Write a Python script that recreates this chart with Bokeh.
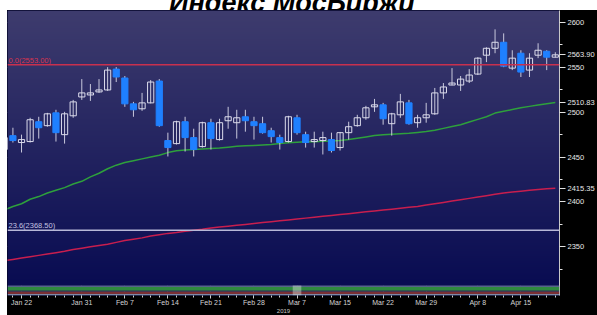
import numpy as np
import pandas as pd
from bokeh.plotting import figure
from bokeh.layouts import column
from bokeh.models import Range1d, FixedTicker, Label, BoxAnnotation, Span, Div
from bokeh.embed import file_html
from bokeh.resources import INLINE

# ---------------- data ----------------
days = pd.bdate_range("2019-01-18", "2019-04-19")
days = days[days != pd.Timestamp("2019-03-08")]

tick_dates = ["2019-01-22", "2019-01-31", "2019-02-07", "2019-02-14", "2019-02-21",
              "2019-02-28", "2019-03-07", "2019-03-15", "2019-03-22", "2019-03-29",
              "2019-04-08", "2019-04-15"]
tick_text = ["Jan 22", "Jan 31", "Feb 7", "Feb 14", "Feb 21", "Feb 28", "Mar 7",
             "Mar 15", "Mar 22", "Mar 29", "Apr 8", "Apr 15"]

opens = [2458.4, 2473.9, 2466.2, 2467.3, 2489.4, 2485.0, 2499.3, 2475.0, 2496.0, 2517.0,
         2519.2, 2522.6, 2524.8, 2548.0, 2538.1, 2509.3, 2503.8, 2510.4, 2534.7, 2468.4,
         2465.0, 2489.4, 2471.7, 2461.7, 2488.3, 2469.5, 2490.5, 2488.3, 2494.9, 2489.4,
         2487.2, 2479.4, 2471.7, 2467.3, 2493.8, 2475.0, 2467.3, 2468.4, 2469.5, 2460.6,
         2477.2, 2485.0, 2493.8, 2506.0, 2508.2, 2487.2, 2497.1, 2510.4, 2488.3, 2493.8,
         2498.2, 2521.5, 2530.3, 2530.3, 2534.7, 2542.5, 2563.5, 2571.2, 2577.9, 2549.1,
         2565.7, 2546.9, 2563.5, 2567.9, 2561.3]
closes = [2471.7, 2468.4, 2469.5, 2491.6, 2482.7, 2498.2, 2477.2, 2498.2, 2511.5, 2521.5,
          2521.5, 2524.8, 2546.9, 2539.2, 2509.3, 2502.7, 2510.4, 2533.6, 2485.0, 2460.6,
          2489.4, 2471.7, 2458.4, 2488.3, 2470.6, 2488.3, 2494.9, 2493.8, 2490.5, 2485.0,
          2477.2, 2472.8, 2466.2, 2494.9, 2477.2, 2466.2, 2469.5, 2471.7, 2457.3, 2477.2,
          2483.8, 2493.8, 2504.9, 2508.2, 2492.7, 2498.2, 2511.5, 2487.2, 2493.8, 2497.1,
          2521.5, 2528.1, 2532.5, 2536.9, 2541.4, 2560.2, 2571.2, 2577.9, 2551.3, 2560.2,
          2544.7, 2560.2, 2569.0, 2561.3, 2563.9]
highs = [2475.0, 2482.7, 2475.0, 2493.8, 2494.9, 2499.3, 2502.7, 2500.4, 2513.7, 2536.9,
         2531.4, 2536.9, 2550.2, 2550.2, 2540.3, 2511.5, 2521.5, 2535.8, 2536.9, 2477.2,
         2490.5, 2494.9, 2481.6, 2489.4, 2492.7, 2492.7, 2506.0, 2502.7, 2502.7, 2494.9,
         2494.9, 2482.7, 2475.0, 2496.0, 2497.1, 2478.3, 2478.3, 2478.3, 2477.2, 2478.0,
         2489.4, 2497.1, 2507.1, 2514.8, 2510.4, 2499.3, 2520.4, 2513.7, 2497.1, 2510.4,
         2527.0, 2532.5, 2549.1, 2540.3, 2548.0, 2561.3, 2572.3, 2592.3, 2587.8, 2569.0,
         2569.0, 2565.7, 2576.8, 2569.0, 2566.8]
lows = [2452.9, 2466.2, 2455.1, 2466.2, 2470.6, 2483.8, 2467.3, 2465.0, 2493.8, 2513.7,
        2512.6, 2521.5, 2523.7, 2533.6, 2506.0, 2494.9, 2501.5, 2509.8, 2483.8, 2450.7,
        2464.0, 2456.2, 2450.7, 2460.6, 2458.4, 2468.4, 2481.6, 2470.6, 2478.3, 2469.5,
        2476.1, 2466.2, 2458.4, 2466.2, 2475.0, 2460.6, 2460.6, 2452.9, 2455.1, 2457.3,
        2469.5, 2483.8, 2491.6, 2500.4, 2486.1, 2473.9, 2493.8, 2486.1, 2482.7, 2488.3,
        2497.1, 2514.8, 2530.0, 2523.7, 2532.5, 2541.4, 2555.8, 2565.7, 2550.2, 2546.9,
        2539.2, 2539.2, 2560.2, 2546.9, 2561.0]
ma_short = [2391, 2395, 2398, 2403, 2406, 2410, 2413, 2416, 2420, 2423,
            2428, 2432, 2437, 2441, 2444, 2446, 2448, 2450, 2452, 2455,
            2457, 2458, 2458.5, 2459, 2459.5, 2460, 2461, 2462, 2462.5, 2463,
            2463.5, 2464, 2465, 2466, 2466.5, 2467, 2467, 2467.5, 2468, 2468.5,
            2469.5, 2471, 2472.5, 2474, 2475, 2475.5, 2476, 2476.5, 2477.5, 2478.5,
            2480, 2482, 2484, 2486, 2489, 2492, 2495, 2499, 2501, 2503,
            2505, 2506.5, 2508, 2509.5, 2510.83]
ma_long = [2334.5, 2336, 2337.5, 2339, 2340.5, 2342, 2343.5, 2345, 2347, 2348.5,
           2350, 2351.5, 2353, 2355, 2357, 2358.5, 2360, 2362, 2363.5, 2365,
           2366, 2367.5, 2368.5, 2369.5, 2371, 2372, 2373, 2374, 2375, 2376,
           2377, 2378, 2379, 2380, 2381, 2382, 2383, 2384, 2385, 2386,
           2387, 2388, 2389, 2390, 2391, 2392, 2393, 2394, 2395, 2396.5,
           2398, 2399.5, 2401, 2402.5, 2404, 2405.5, 2407, 2408.5, 2410, 2411,
           2412, 2413, 2414, 2414.7, 2415.35]
fib_levels = [2553.00, 2368.50]
fib_text = ["0.0(2553.00)", "23.6(2368.50)"]
y_ticks = [2350, 2400, 2450, 2500, 2550, 2600]
y_minor = [2325, 2375, 2425, 2475, 2525, 2575]
title_text = "Индекс МосБиржи"
year_text = "2019"

# ---------------- geometry ----------------
x = np.arange(len(days))
day_index = {d.strftime("%Y-%m-%d"): i for i, d in enumerate(days)}
tick_x = [day_index[d] for d in tick_dates]

W, H_TITLE, H = 597, 10, 305
L, R, T, B = 7, 29, 0, 18
X0, X1 = 0.371, 64.486
Y0, Y1 = 2295.8, 2613.3
PXX = (W - L - R) / (X1 - X0)
PXY = (H - T - B) / (Y1 - Y0)
STRIP = 10 / PXY
FONT = "Liberation Sans"

# page behind the transparent border: white left margin, black axis areas
page_bg = f"linear-gradient(to right, white {L}px, black {L}px)"

p = figure(width=W, height=H, output_backend="svg", toolbar_location=None,
           x_range=Range1d(X0, X1), y_range=Range1d(Y0, Y1),
           y_axis_location="right",
           min_border_left=L, min_border_right=R, min_border_top=T, min_border_bottom=B,
           border_fill_color=None, outline_line_color=None,
           background_fill_color="#0a0c55",
           styles={"background": page_bg})

# background gradient
N = 280
top_c = np.array([62, 60, 110], dtype=float)
bot_c = np.array([9, 12, 82], dtype=float)
t = np.linspace(0, 1, N)[:, None]
rgb = bot_c + (top_c - bot_c) * t
img = np.zeros((N, 1), dtype=np.uint32)
view = img.view(dtype=np.uint8).reshape((N, 1, 4))
view[:, 0, 0] = rgb[:, 0]
view[:, 0, 1] = rgb[:, 1]
view[:, 0, 2] = rgb[:, 2]
view[:, 0, 3] = 255
p.image_rgba(image=[img], x=X0, y=Y0 + STRIP, dw=X1 - X0, dh=Y1 - Y0 - STRIP)

# grids
xt = FixedTicker(ticks=tick_x, minor_ticks=list(x))
yt_grid = FixedTicker(ticks=y_ticks, minor_ticks=y_minor)
for g, tk in ((p.xgrid[0], xt), (p.ygrid[0], yt_grid)):
    g.ticker = tk
    g.grid_line_color = "#a0a0cc"
    g.grid_line_alpha = 0.55
    g.grid_line_dash = "1 2"
    g.grid_line_width = 1

# fibonacci lines
p.add_layout(Span(location=fib_levels[0], dimension="width", line_color="#c8304e", line_width=1.5))
p.add_layout(Span(location=fib_levels[1], dimension="width", line_color="#b8b8d8", line_width=1.5))

# moving averages
p.line(x, ma_short, line_color="#2ea03c", line_width=1.5)
p.line(x, ma_long, line_color="#c81e4e", line_width=1.5)

# candles
o = np.array(opens); c = np.array(closes)
up = c >= o
dn = ~up
p.segment(x0=x, y0=lows, x1=x, y1=highs, line_color="#c8c8dc", line_width=1)
p.vbar(x=x[up], width=0.72, top=c[up], bottom=o[up], fill_alpha=0,
       line_color="#dcdcec", line_width=1)
p.vbar(x=x[dn], width=0.72, top=o[dn], bottom=c[dn], fill_color="#1f80ff",
       line_color="#1f80ff", line_width=1)

# collapsed lower panel strip
bands = [(0.0, 1.5, "#7d8aa6"), (1.5, 4.0, "#7a2f33"), (4.0, 5.0, "#4a4e5e"),
         (5.0, 8.5, "#2f8a3f"), (8.5, 10.0, "#56648a")]
for b0, b1, col in bands:
    p.add_layout(BoxAnnotation(bottom=Y0 + b0 / PXY, top=Y0 + b1 / PXY, fill_color=col,
                               fill_alpha=1, line_color=None))
m7 = day_index["2019-03-07"]
p.add_layout(BoxAnnotation(bottom=Y0, top=Y0 + STRIP, left=m7 - 0.5, right=m7 + 0.5,
                           fill_color="#d8e0d8", fill_alpha=0.45, line_color=None))

# right axis: price ticks plus the last values (close, short MA, long MA)
last_vals = [closes[-1], ma_short[-1], ma_long[-1]]
yax = p.yaxis[0]
yax.ticker = FixedTicker(ticks=y_ticks + last_vals, minor_ticks=y_minor)
yax.major_label_overrides = {v: f"{v:.2f}" for v in last_vals}
yax.axis_line_color = "#c8c8c8"
yax.major_tick_out = 6
yax.major_tick_in = 0
yax.minor_tick_out = 3
yax.minor_tick_in = 0
yax.major_tick_line_color = "#e0e0e0"
yax.minor_tick_line_color = "#e0e0e0"
yax.major_label_text_color = "#e8e8e8"
yax.major_label_text_font = FONT
yax.major_label_text_font_size = "7.5px"
yax.major_label_standoff = 2

xax = p.xaxis[0]
xax.ticker = xt
xax.major_label_overrides = {int(k): s for k, s in zip(tick_x, tick_text)}
xax.axis_line_color = None
xax.major_tick_out = 3
xax.major_tick_in = 0
xax.minor_tick_out = 2
xax.minor_tick_in = 0
xax.major_tick_line_color = "#d0d0d0"
xax.minor_tick_line_color = "#d0d0d0"
xax.major_label_text_color = "#d4d4d4"
xax.major_label_text_font = FONT
xax.major_label_text_font_size = "7px"
xax.major_label_standoff = 0
xax.axis_label = year_text
xax.axis_label_text_font = FONT
xax.axis_label_text_font_size = "6px"
xax.axis_label_text_font_style = "normal"
xax.axis_label_text_color = "#c8c8c8"
xax.axis_label_standoff = 0

# fib labels
p.add_layout(Label(x=X0, y=fib_levels[0], x_offset=1, text=fib_text[0], text_baseline="bottom",
                   text_font=FONT, text_font_size="7.5px", text_color="#d8344f"))
p.add_layout(Label(x=X0, y=fib_levels[1], x_offset=1, text=fib_text[1], text_baseline="bottom",
                   text_font=FONT, text_font_size="7.5px", text_color="#c4c4e0"))

# title strip above the chart (only the lower part of the big title shows, as in the original)
title_div = Div(
    text=(f'<div style="font: italic bold 27px \'Liberation Sans\', sans-serif; color: black; '
          f'text-align: center; width: {2 * (292 - L)}px; margin-left: {L}px; line-height: 27px; '
          f'margin-top: -16px; white-space: nowrap;">{title_text}</div>'),
    width=W, height=H_TITLE, margin=0,
    styles={"overflow": "hidden", "background": "white"})

page = column(title_div, p, spacing=0)
open("out.html", "w").write(file_html(page, INLINE))
